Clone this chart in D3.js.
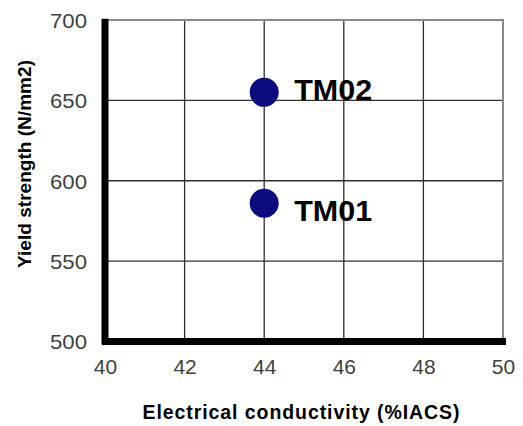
<!DOCTYPE html>
<html>
<head>
<meta charset="utf-8">
<script src="https://cdn.jsdelivr.net/npm/d3@7"></script>
<style>
  html, body { margin: 0; padding: 0; background: #fff; }
  svg { display: block; }
  text { font-family: "Liberation Sans", Arial, sans-serif; }
</style>
</head>
<body>
<svg id="chart" width="523" height="426"></svg>
<script>
const labels = ["TM01", "TM02"];
const conductivity = [44, 44];
const yieldStrength = [586, 655];
const xTicks = [40, 42, 44, 46, 48, 50];
const yTicks = [500, 550, 600, 650, 700];
const xTitle = "Electrical conductivity (%IACS)";
const yTitle = "Yield strength (N/mm2)";

const svg = d3.select("#chart");
const x = d3.scaleLinear().domain([40, 50]).range([105, 503]);
const y = d3.scaleLinear().domain([500, 700]).range([341.5, 20]);

// grid
svg.append("g").selectAll("line.v").data(xTicks.slice(1, -1)).join("line")
  .attr("x1", d => x(d)).attr("x2", d => x(d)).attr("y1", y(700)).attr("y2", y(500))
  .attr("stroke", "#303030").attr("stroke-width", 1.3);
svg.append("g").selectAll("line.h").data(yTicks.slice(1, -1)).join("line")
  .attr("x1", x(40)).attr("x2", x(50)).attr("y1", d => y(d)).attr("y2", d => y(d))
  .attr("stroke", "#303030").attr("stroke-width", 1.3);

// top/right border
svg.append("line").attr("x1", x(40)).attr("x2", x(50) + 1).attr("y1", y(700)).attr("y2", y(700))
  .attr("stroke", "#8a8a8a").attr("stroke-width", 2);
svg.append("line").attr("x1", x(50)).attr("x2", x(50)).attr("y1", y(700)).attr("y2", y(500))
  .attr("stroke", "#8a8a8a").attr("stroke-width", 2);

// axes
const xAxis = d3.axisBottom(x).tickValues(xTicks).tickSize(6).tickFormat(d3.format("d"));
const gx = svg.append("g").attr("transform", `translate(0,${y(500) - 3})`).call(xAxis);
gx.select(".domain").remove();
gx.selectAll(".tick line").attr("stroke", "#000").attr("stroke-width", 3.5);
gx.selectAll(".tick text").attr("font-size", 21).attr("fill", "#404040").attr("dy", 0).attr("y", 35);

const yAxis = d3.axisLeft(y).tickValues(yTicks).tickSize(6).tickFormat(d3.format("d"));
const gy = svg.append("g").attr("transform", `translate(${x(40) + 3},0)`).call(yAxis);
gy.select(".domain").remove();
gy.selectAll(".tick line").attr("stroke", "#000").attr("stroke-width", 3.5);
gy.selectAll(".tick text").attr("font-size", 21).attr("fill", "#404040").attr("x", -21).attr("dy", "0.35em")
  .attr("textLength", 37).attr("lengthAdjust", "spacingAndGlyphs");

svg.append("line").attr("x1", x(40)).attr("x2", x(40)).attr("y1", y(700) - 1).attr("y2", y(500) + 3)
  .attr("stroke", "#000").attr("stroke-width", 7);
svg.append("line").attr("x1", x(40) - 3).attr("x2", x(50) + 3).attr("y1", y(500)).attr("y2", y(500))
  .attr("stroke", "#000").attr("stroke-width", 7);

// points
const pts = labels.map((l, i) => ({ label: l, x: conductivity[i], y: yieldStrength[i] }));
svg.append("g").selectAll("circle").data(pts).join("circle")
  .attr("cx", d => x(d.x)).attr("cy", d => y(d.y)).attr("r", 14.5)
  .attr("fill", "#0b0b7d");
svg.append("g").selectAll("text").data(pts).join("text")
  .attr("x", d => x(d.x) + 30).attr("y", d => y(d.y) + (d.label === "TM01" ? 18 : 8))
  .attr("font-size", 29.5).attr("font-weight", "bold").attr("fill", "#000")
  .attr("textLength", 78).attr("lengthAdjust", "spacingAndGlyphs")
  .text(d => d.label);

// titles
svg.append("text").attr("x", 301).attr("y", 419).attr("text-anchor", "middle")
  .attr("font-size", 19.5).attr("font-weight", "bold").attr("fill", "#000")
  .attr("textLength", 317).attr("lengthAdjust", "spacing").text(xTitle);
svg.append("text").attr("transform", "translate(31,164) rotate(-90)").attr("text-anchor", "middle")
  .attr("font-size", 19).attr("font-weight", "bold").attr("fill", "#000")
  .attr("textLength", 208).attr("lengthAdjust", "spacing").text(yTitle);
</script>
</body>
</html>
